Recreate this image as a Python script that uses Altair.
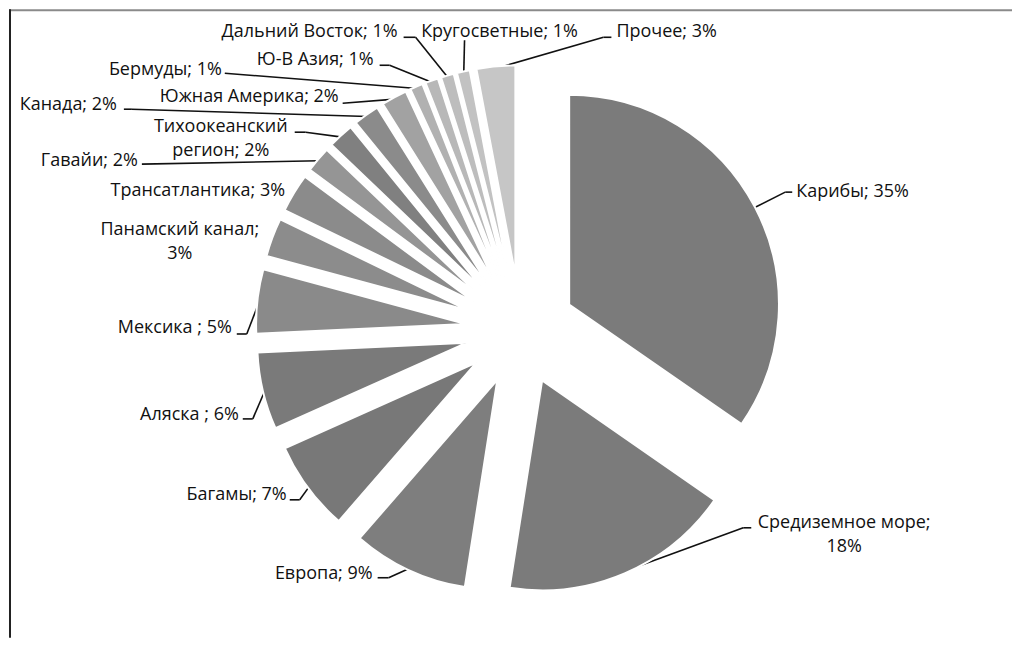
import altair as alt
import pandas as pd

# ---- data ----
categories = ["Карибы", "Средиземное море", "Европа", "Багамы", "Аляска", "Мексика",
              "Панамский канал", "Трансатлантика", "Гавайи", "Тихоокеанский регион",
              "Канада", "Южная Америка", "Бермуды", "Ю-В Азия", "Дальний Восток",
              "Кругосветные", "Прочее"]
shares = [35, 18, 9, 7, 6, 5, 3, 3, 2, 2, 2, 2, 1, 1, 1, 1, 3]
labels = ["Карибы; 35%", "Средиземное море;|18%", "Европа; 9%", "Багамы; 7%",
          "Аляска ; 6%", "Мексика ; 5%", "Панамский канал;|3%", "Трансатлантика; 3%",
          "Гавайи; 2%", "Тихоокеанский|регион; 2%", "Канада; 2%", "Южная Америка; 2%",
          "Бермуды; 1%", "Ю-В Азия; 1%", "Дальний Восток; 1%", "Кругосветные; 1%",
          "Прочее; 3%"]

# ---- styles ----
fills = ["#7b7b7b", "#7b7b7b", "#7e7e7e", "#787878", "#7a7a7a", "#8a8a8a",
         "#8c8c8c", "#8b8b8b", "#959595", "#808080", "#8b8b8b", "#a2a2a2",
         "#b1b1b1", "#b8b8b8", "#bdbdbd", "#c2c2c2", "#c6c6c6"]

# ---- layout (page coordinates of the label annotations) ----
M = 8
label_x = [797, 845, 373, 287, 239, 232, 180, 198, 138, 221, 117, 339, 222, 374, 398, 500, 617]
label_y = [192, 523, 574, 495, 415, 328, 230, 191, 161, 127, 105, 97, 70, 60, 32, 32, 32]
label_align = ["left", "center", "right", "right", "right", "right", "center", "center",
               "right", "center", "right", "right", "right", "right", "right", "center", "left"]
elbow_x = [786, 744, 389, 300, 253, 247, None, None, 142, 306, 132, 343, 225, 390, 416, 465, 604]
elbow_y = [192, 528, 578, 500, 419, 334, None, None, 164, 132, 109, 103, 73, 65, 37, 40, 37]
end_x = [793, 752, 378, 290, 243, 237, None, None, 142, 295, 124, 343, 225, 380, 404, 465, 612]
end_y = [192, 528, 578, 500, 419, 334, None, None, 164, 132, 109, 103, 73, 65, 37, 40, 37]

CX, CY = 521 - M, 330 - M   # pie centre
R = 210                     # radius
D = 55                      # explosion distance
W, H = 1005, 630


def sh(v):
    return None if v is None else v - M


df = pd.DataFrame({
    "order": list(range(len(categories))),
    "category": categories,
    "share": shares,
    "label": labels,
    "lx": [sh(v) for v in label_x],
    "ly": [sh(v) for v in label_y],
    "align": label_align,
    "ex": [sh(v) for v in elbow_x],
    "ey": [sh(v) for v in elbow_y],
    "nx": [sh(v) for v in end_x],
    "ny": [sh(v) for v in end_y],
})

base = (
    alt.Chart(df)
    .transform_joinaggregate(total="sum(share)")
    .transform_window(cum="sum(share)", sort=[alt.SortField("order")], frame=[None, 0])
    .transform_calculate(t0="(datum.cum - datum.share) / datum.total * 2 * PI")
    .transform_calculate(t1="datum.cum / datum.total * 2 * PI")
    .transform_calculate(mid="(datum.t0 + datum.t1) / 2")
    .transform_calculate(cx=f"{CX} + {D} * sin(datum.mid)")
    .transform_calculate(cy=f"{CY} - {D} * cos(datum.mid)")
    .transform_calculate(tipx=f"datum.cx + {R - 2} * sin(datum.mid)")
    .transform_calculate(tipy=f"datum.cy - {R - 2} * cos(datum.mid)")
)

arcs = base.mark_arc(radius=R, stroke="white", strokeWidth=2).encode(
    theta=alt.Theta("t0:Q", scale=None),
    theta2=alt.Theta2("t1:Q"),
    x=alt.X("cx:Q", scale=None),
    y=alt.Y("cy:Q", scale=None),
    color=alt.Color("category:N", scale=alt.Scale(domain=categories, range=fills), legend=None),
)

leads = base.transform_filter("isValid(datum.ex)")
lead1 = leads.mark_rule(color="#111111", strokeWidth=1.6).encode(
    x=alt.X("tipx:Q", scale=None), y=alt.Y("tipy:Q", scale=None),
    x2=alt.X2("ex:Q"), y2=alt.Y2("ey:Q"),
)
lead2 = leads.mark_rule(color="#111111", strokeWidth=1.6).encode(
    x=alt.X("ex:Q", scale=None), y=alt.Y("ey:Q", scale=None),
    x2=alt.X2("nx:Q"), y2=alt.Y2("ny:Q"),
)

texts = []
for a in ["left", "center", "right"]:
    texts.append(
        base.transform_filter(f"datum.align == '{a}'")
        .transform_calculate(lines="split(datum.label, '|')")
        .mark_text(align=a, baseline="middle", font="Open Sans", fontSize=18,
                   lineHeight=24, color="#111111")
        .encode(x=alt.X("lx:Q", scale=None), y=alt.Y("ly:Q", scale=None), text="lines:N")
    )

frame_df = pd.DataFrame({"k": [0]})
top_line = alt.Chart(frame_df).mark_rule(color="#8a8a8a", strokeWidth=2).encode(
    x=alt.value(1), x2=alt.value(W), y=alt.value(2), y2=alt.value(2))
left_line = alt.Chart(frame_df).mark_rule(color="#222222", strokeWidth=2).encode(
    x=alt.value(2), x2=alt.value(2), y=alt.value(1), y2=alt.value(H))

chart = (
    alt.layer(top_line, left_line, lead1, lead2, arcs, *texts)
    .properties(width=W, height=H, padding=0)
    .configure_view(stroke=None)
)

chart.save("out.html", embed_options={"renderer": "svg", "actions": False})
